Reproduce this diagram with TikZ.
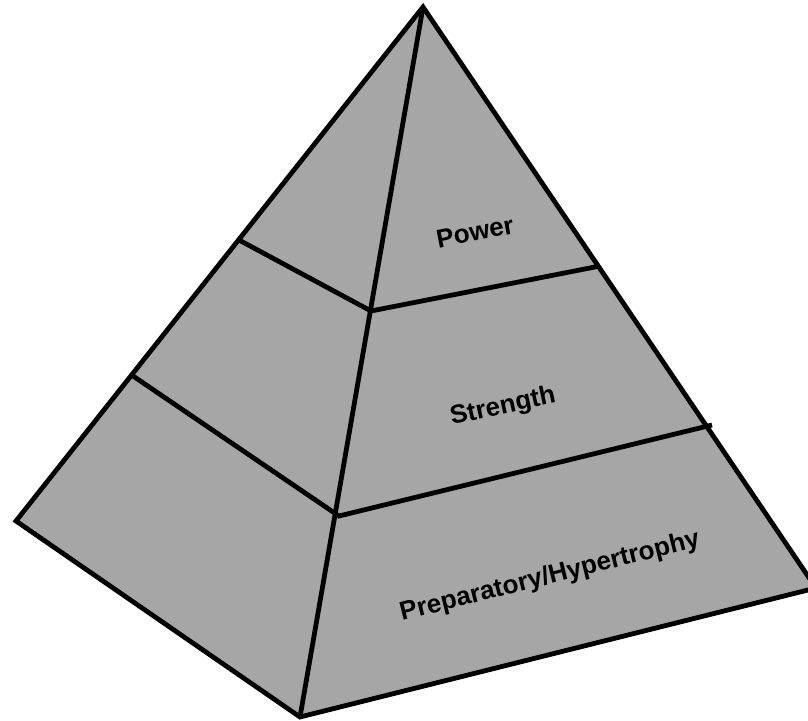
\documentclass[tikz,border=0pt]{standalone}
\usepackage{fontspec}
\setmainfont{Liberation Sans}
\definecolor{facegray}{RGB}{166,166,166}

\begin{document}
\begin{tikzpicture}[x=0.025cm,y=-0.025cm,line width=3.4pt,line join=miter,
  level/.style={font=\fontsize{18.5}{20}\selectfont\bfseries}]
  \clip (0,0) rectangle (808,721);
  % ---------------- corners ----------------
  \coordinate (apex)  at (423,7);
  \coordinate (left)  at (16,521);
  \coordinate (front) at (300,717);
  \coordinate (right) at (816,588);
  % ---------------- level points ----------------
  \coordinate (lu) at (239,240);
  \coordinate (fu) at (371,311);
  \coordinate (ru) at (600,266);
  \coordinate (ll) at (133,376);
  \coordinate (fl) at (339,516);
  \coordinate (rl) at (712,425);
  % faces
  \fill[facegray] (apex) -- (left) -- (front) -- (right) -- cycle;
  \draw (apex) -- (left) -- (front) -- (right) -- cycle;
  \draw (apex) -- (front);
  % level lines
  \draw (lu) -- (fu) -- (ru);
  \draw (ll) -- (fl) -- (rl);
  % labels
  \node[level,rotate=11] (power) at (475,232) {Power};
  \node[level,rotate=12] (strength) at (503,407) {Strength};
  \node[level,rotate=14] (prep) at (550,577) {Preparatory/Hypertrophy};
\end{tikzpicture}
\end{document}
